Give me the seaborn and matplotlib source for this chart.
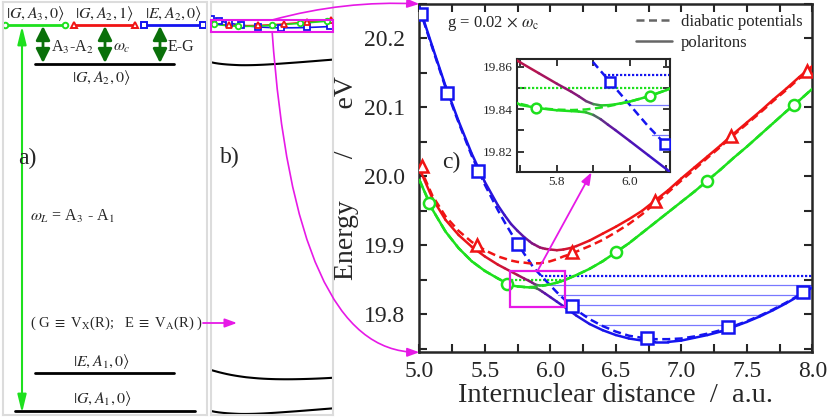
import numpy as np
import matplotlib
matplotlib.use("Agg")
import matplotlib.pyplot as plt
import seaborn as sns
from matplotlib.collections import LineCollection
from matplotlib.patches import Rectangle, ConnectionPatch
from matplotlib.lines import Line2D
from matplotlib.colors import to_rgb
from matplotlib.ticker import MultipleLocator, FormatStrFormatter

# internuclear distance grid (a.u.), denser around the crossing
R = [5.0, 5.1, 5.2, 5.3, 5.4, 5.5, 5.6,
     5.65, 5.70, 5.75, 5.80, 5.84, 5.86, 5.88, 5.90, 5.92, 5.94, 5.96, 6.00, 6.05, 6.10, 6.15,
     6.2, 6.3, 6.4, 6.5, 6.6, 6.7, 6.8, 6.9, 7.0, 7.1, 7.2, 7.3, 7.4, 7.5, 7.6, 7.7, 7.8, 7.9, 8.0]

# diabatic potentials (eV)
blue_dia = [20.244, 20.186, 20.129, 20.078, 20.030, 19.988, 19.951,
            19.934, 19.918, 19.903, 19.888, 19.877, 19.871, 19.866, 19.862, 19.858, 19.854, 19.850,
            19.842, 19.832, 19.823, 19.814,
            19.806, 19.793, 19.783, 19.775, 19.769, 19.766, 19.764, 19.764, 19.765, 19.768, 19.772,
            19.777, 19.783, 19.790, 19.798, 19.807, 19.817, 19.828, 19.840]
red_dia = [20.015, 19.972, 19.942, 19.921, 19.905, 19.893, 19.884,
           19.881, 19.878, 19.876, 19.875, 19.874, 19.874, 19.874, 19.874, 19.874, 19.875, 19.875,
           19.877, 19.880, 19.884, 19.887,
           19.891, 19.899, 19.908, 19.919, 19.931, 19.945, 19.961, 19.977, 19.994, 20.010, 20.027,
           20.043, 20.060, 20.076, 20.092, 20.109, 20.125, 20.142, 20.158]
green_dia = [19.995, 19.952, 19.920, 19.896, 19.877, 19.863, 19.852,
             19.847, 19.8425, 19.8405, 19.8398, 19.8396, 19.8397, 19.8399, 19.8403, 19.8408, 19.8414,
             19.8421, 19.8436, 19.846, 19.849, 19.853,
             19.857, 19.866, 19.877, 19.890, 19.903, 19.918, 19.933, 19.948, 19.963, 19.978, 19.994,
             20.010, 20.027, 20.043, 20.060, 20.077, 20.094, 20.110, 20.127]

# polariton surfaces (eV)
pol_up = [20.246, 20.188, 20.131, 20.080, 20.033, 19.992, 19.958,
          19.944, 19.931, 19.921, 19.912, 19.906, 19.903, 19.901, 19.899, 19.897, 19.896, 19.895,
          19.894, 19.893, 19.894, 19.896,
          19.899, 19.907, 19.917, 19.927, 19.938, 19.950, 19.965, 19.980, 19.997, 20.013, 20.029,
          20.045, 20.062, 20.078, 20.094, 20.111, 20.127, 20.144, 20.160]
pol_mid = [20.012, 19.968, 19.937, 19.915, 19.898, 19.884, 19.872,
           19.867, 19.862, 19.857, 19.852, 19.8482, 19.8461, 19.8438, 19.8424, 19.8418, 19.8419,
           19.8423, 19.8436, 19.846, 19.849, 19.853,
           19.857, 19.866, 19.877, 19.890, 19.903, 19.918, 19.933, 19.948, 19.963, 19.978, 19.994,
           20.010, 20.027, 20.043, 20.060, 20.077, 20.094, 20.110, 20.127]
pol_low = [19.995, 19.952, 19.920, 19.896, 19.877, 19.863, 19.852,
           19.847, 19.842, 19.8405, 19.8395, 19.8391, 19.8389, 19.8385, 19.8373, 19.8353, 19.8327,
           19.8302, 19.8250, 19.8184, 19.8118, 19.805,
           19.798, 19.786, 19.777, 19.770, 19.765, 19.762, 19.760, 19.760, 19.762, 19.766, 19.770,
           19.775, 19.782, 19.789, 19.797, 19.806, 19.816, 19.827, 19.839]

# symbols on the diabatic curves
blue_mk_R = [5.013, 5.214, 5.45, 5.75, 6.163, 6.736, 7.359, 7.927]
blue_mk_E = [20.236, 20.121, 20.008, 19.902, 19.812, 19.765, 19.781, 19.833]
red_mk_R = [5.018, 5.438, 6.163, 6.80, 7.377, 7.957]
red_mk_E = [20.015, 19.901, 19.890, 19.965, 20.058, 20.153]
green_mk_R = [5.074, 5.667, 6.50, 7.194, 7.863]
green_mk_E = [19.962, 19.844, 19.890, 19.993, 20.104]
ins_blue_mk_R = [5.945, 6.095]
ins_blue_mk_E = [19.853, 19.8236]
ins_green_mk_R = [5.744, 6.055]
ins_green_mk_E = [19.8405, 19.8463]

# vibrational levels
vib_E = [19.856, 19.842, 19.828, 19.814, 19.799, 19.784]
vib_R0 = [5.93, 6.00, 6.06, 6.15, 6.25, 6.37]
vib_R1 = [8.0, 8.0, 7.90, 7.77, 7.62, 7.44]
green_vib_E = 19.850
green_vib_R = [5.70, 6.09]

inset_xlim = (5.69, 6.11)
inset_ylim = (19.8103, 19.8635)

# panel b: lower surfaces as energy shifts of the diabatic curves
shift_GA1 = 19.94
shift_GA2 = 2.0
shift_EA1 = 18.08

RED, GREEN, BLUE = '#f01414', '#1ee01e', '#1414f0'
MAG = '#e619e6'
DKGREEN = '#0a700a'
GRAYBOX = '#dcdcdc'
DASH = (0, (3.2, 1.8))

sns.set_style('ticks', {'xtick.direction': 'in', 'ytick.direction': 'in'})
plt.rcParams['font.family'] = ['Liberation Serif', 'DejaVu Serif']
plt.rcParams['mathtext.fontset'] = 'stix'

Ra = np.array(R)
Rm = 0.5 * (Ra[:-1] + Ra[1:])


def sig(x, x0, w):
    return 1.0 / (1.0 + np.exp(-(x - x0) / w))


def mix(c1, c2, w):
    c1 = np.atleast_2d(c1)
    c2 = np.atleast_2d(c2)
    return (1 - w)[:, None] * c1 + w[:, None] * c2


w_rb = sig(Rm, 5.87, 0.14)
w_g = sig(Rm, 5.905, 0.012)
lp_col = mix(to_rgb(RED), to_rgb(BLUE), w_rb)
up_col = mix(to_rgb(BLUE), to_rgb(RED), w_rb)
mid_col = mix(lp_col, to_rgb(GREEN), w_g)
low_col = mix(to_rgb(GREEN), lp_col, w_g)


def grad_line(ax, y, cols, lw):
    pts = np.column_stack([Ra, y])
    segs = np.stack([pts[:-1], pts[1:]], axis=1)
    lc = LineCollection(segs, colors=cols, linewidths=lw, capstyle='round', zorder=4)
    ax.add_collection(lc)


def draw_curves(ax, lw, ms, mks):
    for e, r0, r1, k in zip(vib_E, vib_R0, vib_R1, range(len(vib_E))):
        if k == 0:
            ax.plot([r0, r1], [e, e], ls=(0, (1, 0.8)), color=BLUE, lw=1.6, zorder=2)
        else:
            ax.plot([r0, r1], [e, e], color='#7878ff', lw=0.9, zorder=2)
    ax.plot(green_vib_R, [green_vib_E] * 2, ls=(0, (1, 0.8)), color=GREEN, lw=1.6, zorder=2)
    for y, c in [(blue_dia, BLUE), (red_dia, RED), (green_dia, GREEN)]:
        sns.lineplot(x=R, y=y, ax=ax, color=c, lw=lw, linestyle=DASH, zorder=3)
    grad_line(ax, pol_up, up_col, lw)
    grad_line(ax, pol_mid, mid_col, lw)
    grad_line(ax, pol_low, low_col, lw)
    for (xr, ye), c, m in zip(mks, [BLUE, RED, GREEN], ['s', '^', 'o']):
        ax.plot(xr, ye, ls='none', marker=m, ms=ms, mfc='white', mec=c, mew=1.8, zorder=5)


fig = plt.figure(figsize=(8.31, 4.17), dpi=100)

# ---------------- panel c (main)
ax = fig.add_axes([0.5046, 0.1552, 0.4729, 0.8353])
draw_curves(ax, 1.8, 8, [(blue_mk_R, blue_mk_E), (red_mk_R, red_mk_E), (green_mk_R, green_mk_E)])
ax.add_patch(Rectangle((inset_xlim[0], inset_ylim[0]), inset_xlim[1] - inset_xlim[0],
                       inset_ylim[1] - inset_ylim[0], fill=False, ec=MAG, lw=1.6, zorder=6))
ax.set_xlim(5.0, 8.0)
ax.set_ylim(19.745, 20.25)
ax.xaxis.set_major_locator(MultipleLocator(0.5))
ax.xaxis.set_minor_locator(MultipleLocator(0.25))
ax.yaxis.set_major_locator(MultipleLocator(0.1))
ax.yaxis.set_minor_locator(MultipleLocator(0.05))
ax.xaxis.set_major_formatter(FormatStrFormatter('%.1f'))
ax.yaxis.set_major_formatter(FormatStrFormatter('%.1f'))
ax.tick_params(which='both', direction='in', top=True, right=True, width=1.5, length=6, labelsize=17)
ax.tick_params(axis='x', pad=6)
ax.tick_params(axis='y', pad=10)
for s in ax.spines.values():
    s.set_linewidth(1.8)
ax.set_xlabel('Internuclear distance  /  a.u.', fontsize=20.5, labelpad=1)
ax.set_ylabel('Energy      /      eV', fontsize=20, labelpad=4)
ax.text(0.07, 0.943, r'g = 0.02 $\times$ $\omega_{\rm c}$', transform=ax.transAxes,
        fontsize=12, va='center', ha='left')
ax.text(0.058, 0.546, 'c)', transform=ax.transAxes, fontsize=17, va='center', ha='left')
hnd = [Line2D([], [], color='#666666', lw=1.8, ls=DASH), Line2D([], [], color='#666666', lw=1.8)]
ax.legend(hnd, ['diabatic potentials', 'polaritons'], loc='upper right', frameon=False,
          fontsize=12, handlelength=2.2, handletextpad=0.5, borderaxespad=0.2, labelspacing=0.3)

# ---------------- inset
axi = fig.add_axes([0.6218, 0.5868, 0.1845, 0.2710])
draw_curves(axi, 1.8, 7, [(ins_blue_mk_R, ins_blue_mk_E), ([], []), (ins_green_mk_R, ins_green_mk_E)])
axi.set_xlim(*inset_xlim)
axi.set_ylim(*inset_ylim)
axi.xaxis.set_major_locator(MultipleLocator(0.2))
axi.xaxis.set_minor_locator(MultipleLocator(0.1))
axi.yaxis.set_major_locator(MultipleLocator(0.02))
axi.yaxis.set_minor_locator(MultipleLocator(0.01))
axi.xaxis.set_major_formatter(FormatStrFormatter('%.1f'))
axi.yaxis.set_major_formatter(FormatStrFormatter('%.2f'))
axi.tick_params(which='both', direction='in', top=True, right=True, width=1.3, length=5,
                labelsize=9.5, pad=3)
axi.set_xlabel('')
axi.set_ylabel('')
for s in axi.spines.values():
    s.set_linewidth(1.5)

fig.add_artist(ConnectionPatch(xyA=(5.904, inset_ylim[1]), coordsA=ax.transData,
                               xyB=(5.895, inset_ylim[0]), coordsB=axi.transData,
                               arrowstyle='-|>,head_length=0.6,head_width=0.22',
                               mutation_scale=12, color=MAG, lw=1.3, shrinkA=0, shrinkB=0))

# ---------------- panel b (full energy scale)
axb = fig.add_axes([0.2536, 0.0048, 0.1468, 0.9911])
gd = np.array(green_dia)
bd = np.array(blue_dia)
for y in [gd - shift_GA1, gd - shift_GA2, bd - shift_EA1]:
    sns.lineplot(x=R, y=y, ax=axb, color='k', lw=1.5)
for y, c in [(blue_dia, BLUE), (red_dia, RED), (green_dia, GREEN)]:
    sns.lineplot(x=R, y=y, ax=axb, color=c, lw=1.2)
for xr, ye, c, m in [(blue_mk_R, blue_mk_E, BLUE, 's'), (red_mk_R, red_mk_E, RED, '^'),
                     (green_mk_R, green_mk_E, GREEN, 'o')]:
    axb.plot(xr, ye, ls='none', marker=m, ms=4, mfc='white', mec=c, mew=1.3, zorder=5)
b_box = (19.56, 20.165)
axb.add_patch(Rectangle((5.0, b_box[0]), 3.0, b_box[1] - b_box[0], fill=False, ec=MAG, lw=1.5,
                        zorder=6, clip_on=False))
axb.set_xlim(5.0, 8.0)
axb.set_ylim(-0.154, 21.106)
axb.set_xticks([])
axb.set_yticks([])
axb.set_xlabel('')
axb.set_ylabel('')
for s in axb.spines.values():
    s.set_color(GRAYBOX)
    s.set_linewidth(1.5)
axb.text(0.076, 0.622, 'b)', transform=axb.transAxes, fontsize=17, va='center', ha='left')

fig.add_artist(ConnectionPatch(xyA=(6.51, b_box[1]), coordsA=axb.transData,
                               xyB=(0, 1), coordsB=ax.transAxes, connectionstyle='arc3,rad=-0.08',
                               arrowstyle='-|>,head_length=0.6,head_width=0.22',
                               mutation_scale=12, color=MAG, lw=1.2, shrinkA=0, shrinkB=0))
fig.add_artist(ConnectionPatch(xyA=(6.51, b_box[0]), coordsA=axb.transData,
                               xyB=(0, 0), coordsB=ax.transAxes,
                               connectionstyle='angle3,angleA=-86,angleB=0',
                               arrowstyle='-|>,head_length=0.6,head_width=0.22',
                               mutation_scale=12, color=MAG, lw=1.2, shrinkA=0, shrinkB=0))

# ---------------- panel a (level scheme, diagram units measured from the top)
axa = fig.add_axes([0.00325, 0.0048, 0.2462, 0.9911])
axa.set_xlim(2.7, 207.3)
axa.set_ylim(415, 1.7)
axa.set_xticks([])
axa.set_yticks([])
for s in axa.spines.values():
    s.set_color(GRAYBOX)
    s.set_linewidth(1.5)

top_y = 25
top_x0 = [5, 74, 144]
top_x1 = [65, 135, 203]
top_lab = [r'$|G, A_3, 0\rangle$', r'$|G, A_2, 1\rangle$', r'$|E, A_2, 0\rangle$']
for x0, x1, lab, c, m in zip(top_x0, top_x1, top_lab, [GREEN, RED, BLUE], ['o', '^', 's']):
    axa.plot([x0, x1], [top_y, top_y], color=c, lw=2, marker=m, ms=4, mfc='white', mec=c, mew=1.4)
    axa.text((x0 + x1) / 2, top_y - 12, lab, ha='center', va='center', fontsize=11.5)

black_y = [64, 373, 411]
black_x0 = [35, 35, 15]
black_x1 = [174, 174, 195]
black_lab = [r'$|G, A_2, 0\rangle$', r'$|E, A_1, 0\rangle$', r'$|G, A_1, 0\rangle$']
black_dy = [13, -11, -12]
for y, x0, x1, lab, dy in zip(black_y, black_x0, black_x1, black_lab, black_dy):
    axa.plot([x0, x1], [y, y], color='k', lw=2)
    axa.text((x0 + x1) / 2 - 3, y + dy, lab, ha='center', va='center', fontsize=11.5)

gap_x = [43, 105, 160]
gap_lab = [r'A$_3$-A$_2$', r'$\omega_c$', 'E-G']
for x, lab in zip(gap_x, gap_lab):
    axa.annotate('', xy=(x, top_y + 1), xytext=(x, black_y[0] - 1),
                 arrowprops=dict(arrowstyle='<|-|>,head_length=0.7,head_width=0.35',
                                 mutation_scale=12, color=DKGREEN, lw=2, shrinkA=0, shrinkB=0))
    axa.text(x + 8, 47, lab, ha='left', va='center', fontsize=11.5)

axa.annotate('', xy=(22, top_y + 1), xytext=(22, 413),
             arrowprops=dict(arrowstyle='<|-|>,head_length=0.9,head_width=0.22', mutation_scale=12,
                             color=GREEN, lw=1.5, shrinkA=0, shrinkB=0))
axa.text(30, 216, r'$\omega_L$ = A$_3$ - A$_1$', ha='left', va='center', fontsize=11.5)
axa.text(18, 158, 'a)', ha='left', va='center', fontsize=17)
axa.text(30, 323, r'( G $\equiv$ V$_{\rm X}$(R);   E $\equiv$ V$_{\rm A}$(R) )',
         ha='left', va='center', fontsize=10.5)
axa.annotate('', xy=(237, 323), xytext=(203, 323), annotation_clip=False,
             arrowprops=dict(arrowstyle='-|>,head_length=0.6,head_width=0.22', mutation_scale=12,
                             color=MAG, lw=1.3, shrinkA=0, shrinkB=0))

fig.savefig('out.png', dpi=100)
